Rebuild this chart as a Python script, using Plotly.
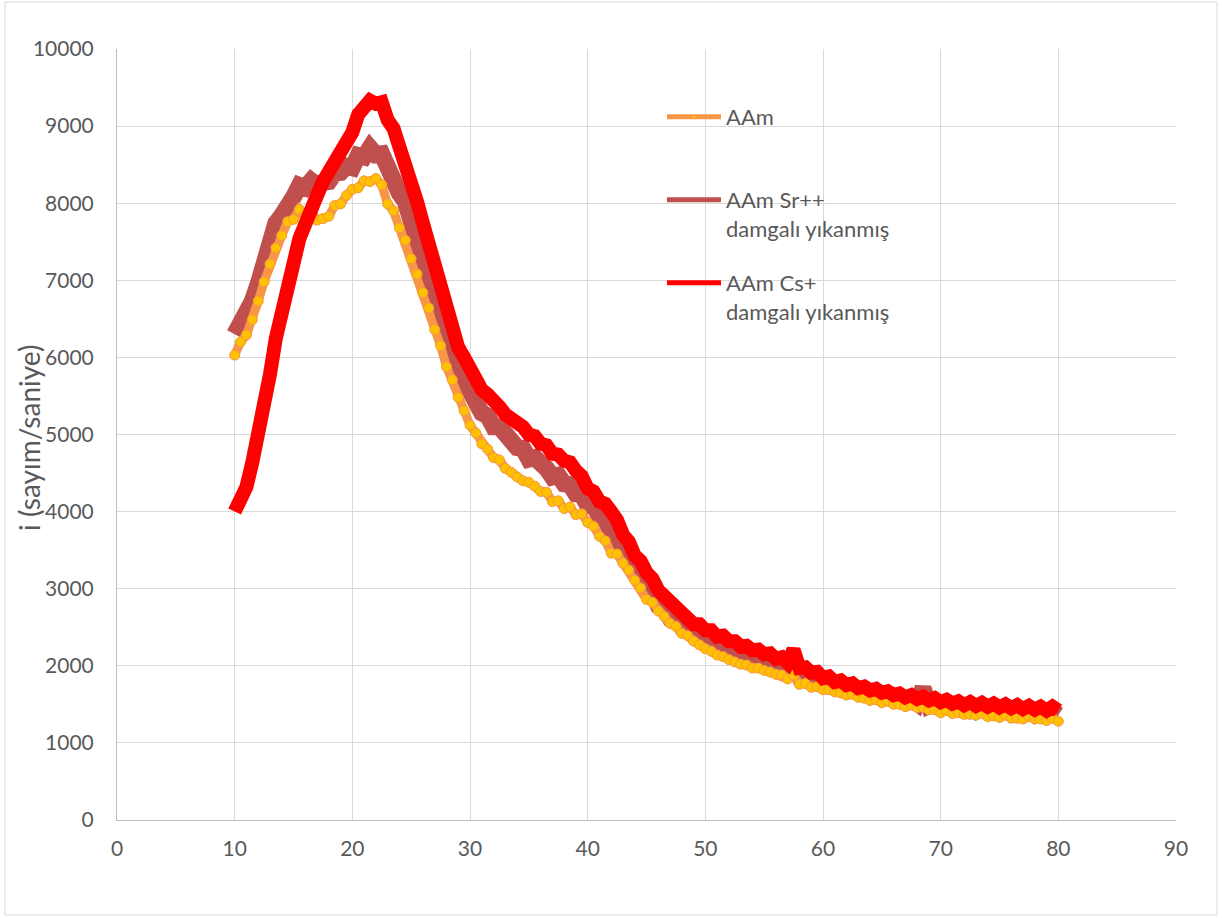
import plotly.graph_objects as go

# 2-theta sampling (degrees)
two_theta = [
    10, 10.5, 11, 11.5, 12, 12.5, 13, 13.5, 14, 14.5, 15, 15.5, 16, 16.5, 17, 17.5, 18, 18.5, 19, 19.5,
    20, 20.5, 21, 21.5, 22, 22.5, 23, 23.5, 24, 24.5, 25, 25.5, 26, 26.5, 27, 27.5, 28, 28.5, 29, 29.5,
    30, 30.5, 31, 31.5, 32, 32.5, 33, 33.5, 34, 34.5, 35, 35.5, 36, 36.5, 37, 37.5, 38, 38.5, 39, 39.5,
    40, 40.5, 41, 41.5, 42, 42.5, 43, 43.5, 44, 44.5, 45, 45.5, 46, 46.5, 47, 47.5, 48, 48.5, 49, 49.5,
    50, 50.5, 51, 51.5, 52, 52.5, 53, 53.5, 54, 54.5, 55, 55.5, 56, 56.5, 57, 57.5, 58, 58.5, 59, 59.5,
    60, 60.5, 61, 61.5, 62, 62.5, 63, 63.5, 64, 64.5, 65, 65.5, 66, 66.5, 67, 67.5, 68, 68.5, 69, 69.5,
    70, 70.5, 71, 71.5, 72, 72.5, 73, 73.5, 74, 74.5, 75, 75.5, 76, 76.5, 77, 77.5, 78, 78.5, 79, 79.5,
    80,
]

# intensity, counts per second
aam = [
    6030, 6200, 6290, 6490, 6730, 6980, 7210, 7420, 7580, 7760, 7790, 7920, 7830, 7900, 7780, 7800, 7830, 7970, 7990, 8100,
    8180, 8200, 8290, 8280, 8320, 8240, 7990, 7900, 7680, 7520, 7280, 7080, 6840, 6640, 6360, 6150, 5880, 5710, 5480, 5310,
    5120, 5020, 4880, 4810, 4700, 4670, 4560, 4510, 4450, 4400, 4380, 4330, 4260, 4250, 4130, 4140, 4040, 4060, 3960, 3970,
    3860, 3810, 3680, 3620, 3460, 3450, 3330, 3240, 3110, 3010, 2860, 2820, 2710, 2640, 2550, 2510, 2420, 2390, 2320, 2270,
    2220, 2190, 2140, 2120, 2080, 2050, 2020, 2010, 1970, 1970, 1940, 1920, 1890, 1880, 1830, 1880, 1760, 1770, 1720, 1730,
    1690, 1690, 1660, 1650, 1620, 1630, 1590, 1580, 1550, 1560, 1520, 1540, 1500, 1500, 1470, 1490, 1460, 1460, 1430, 1430,
    1390, 1420, 1380, 1390, 1370, 1370, 1360, 1380, 1340, 1350, 1330, 1360, 1320, 1320, 1310, 1340, 1310, 1310, 1290, 1320,
    1280,
]

aam_sr = [
    6300, 6430, 6500, 6730, 6950, 7260, 7450, 7740, 7840, 8030, 8080, 8230, 8200, 8290, 8230, 8270, 8280, 8390, 8400, 8480,
    8460, 8620, 8600, 8720, 8630, 8640, 8430, 8370, 8130, 8020, 7780, 7590, 7280, 7090, 6780, 6560, 6230, 6050, 5780, 5700,
    5530, 5460, 5280, 5240, 5100, 5100, 4980, 4960, 4830, 4820, 4680, 4700, 4580, 4560, 4450, 4470, 4360, 4350, 4230, 4220,
    4080, 4080, 3940, 3900, 3730, 3680, 3500, 3430, 3250, 3180, 3000, 2940, 2780, 2750, 2620, 2610, 2500, 2500, 2400, 2400,
    2320, 2320, 2240, 2260, 2180, 2190, 2110, 2140, 2060, 2090, 2020, 2040, 1970, 2000, 1930, 2020, 1860, 1890, 1810, 1840,
    1770, 1800, 1730, 1760, 1690, 1730, 1660, 1690, 1620, 1660, 1590, 1630, 1570, 1600, 1540, 1580, 1520, 1710, 1490, 1530,
    1470, 1510, 1450, 1500, 1440, 1480, 1420, 1470, 1410, 1450, 1400, 1440, 1390, 1430, 1380, 1430, 1370, 1420, 1370, 1410,
    1360,
]

aam_cs = [
    4000, 4170, 4320, 4640, 4960, 5420, 5780, 6250, 6600, 6980, 7240, 7540, 7730, 7970, 8100, 8280, 8400, 8580, 8680, 8840,
    8920, 9150, 9230, 9330, 9290, 9310, 9080, 8970, 8730, 8520, 8230, 8020, 7740, 7470, 7130, 6900, 6580, 6380, 6130, 6000,
    5830, 5740, 5580, 5520, 5400, 5360, 5260, 5220, 5130, 5100, 5000, 4980, 4880, 4860, 4750, 4740, 4660, 4640, 4530, 4460,
    4300, 4260, 4130, 4100, 4000, 3890, 3700, 3610, 3430, 3360, 3210, 3130, 2980, 2910, 2780, 2740, 2640, 2630, 2540, 2540,
    2460, 2460, 2380, 2390, 2320, 2320, 2250, 2260, 2200, 2210, 2150, 2160, 2090, 2110, 2040, 2210, 1970, 1980, 1910, 1920,
    1840, 1860, 1790, 1810, 1750, 1770, 1710, 1730, 1680, 1700, 1650, 1670, 1620, 1640, 1590, 1620, 1570, 1600, 1550, 1580,
    1530, 1560, 1510, 1540, 1490, 1530, 1480, 1520, 1470, 1510, 1460, 1500, 1450, 1490, 1440, 1480, 1430, 1470, 1420, 1470,
    1420,
]

x_ticks = [0, 10, 20, 30, 40, 50, 60, 70, 80, 90]
y_ticks = [0, 1000, 2000, 3000, 4000, 5000, 6000, 7000, 8000, 9000, 10000]
y_tick_labels = ["0", "1000", "2000", "3000", "4000", "5000", "6000", "7000", "8000", "9000", "10000"]

FONT = "Lato"
TEXT_GREY = "#595959"
C_AAM, C_AAM_FILL = "#F79646", "#FFC000"
C_SR, C_CS = "#C0504D", "#FF0000"

W, H = 1222, 918
ML, MR, MT, MB = 117, 46, 49, 98
PW, PH = W - ML - MR, H - MT - MB


def px_x(px):
    return (px - ML) / PW


def px_y(py):
    return (H - MB - py) / PH


fig = go.Figure()

# measured patterns: Sr++ underneath, AAm over it, Cs+ on top
fig.add_trace(go.Scatter(
    x=two_theta, y=aam_sr, mode="lines", showlegend=False,
    line=dict(color=C_SR, width=17),
))
fig.add_trace(go.Scatter(
    x=two_theta, y=aam, mode="lines+markers", showlegend=False,
    line=dict(color=C_AAM, width=9),
    marker=dict(color=C_AAM_FILL, size=10, line=dict(color=C_AAM, width=1)),
))
fig.add_trace(go.Scatter(
    x=two_theta, y=aam_cs, mode="lines", showlegend=False,
    line=dict(color=C_CS, width=14),
))

# legend keys drawn with a slimmer stroke than the data bands
fig.add_trace(go.Scatter(
    x=[None], y=[None], mode="lines+markers", name="AAm",
    line=dict(color=C_AAM, width=5),
    marker=dict(color=C_AAM_FILL, size=3, line=dict(width=0)),
    legend="legend",
))
fig.add_trace(go.Scatter(
    x=[None], y=[None], mode="lines", name="AAm Sr++<br>damgalı yıkanmış",
    line=dict(color=C_SR, width=5), legend="legend2",
))
fig.add_trace(go.Scatter(
    x=[None], y=[None], mode="lines", name="AAm Cs+<br>damgalı yıkanmış",
    line=dict(color=C_CS, width=5), legend="legend3",
))

legend_common = dict(
    font=dict(family=FONT, size=22, color=TEXT_GREY),
    bgcolor="rgba(0,0,0,0)", xanchor="left", yanchor="top",
    valign="top", itemwidth=54, itemclick=False, itemdoubleclick=False,
)

fig.update_layout(
    width=W, height=H,
    margin=dict(l=ML, r=MR, t=MT, b=MB),
    paper_bgcolor="white", plot_bgcolor="white",
    font=dict(family=FONT, color=TEXT_GREY),
    showlegend=True,
    legend=dict(x=px_x(662), y=px_y(96), **legend_common),
    legend2=dict(x=px_x(662), y=px_y(179), **legend_common),
    legend3=dict(x=px_x(662), y=px_y(262), **legend_common),
    xaxis=dict(
        range=[0, 90], tickvals=x_ticks, ticks="",
        showgrid=True, gridcolor="#D9D9D9", gridwidth=1,
        showline=True, linecolor="#BFBFBF", linewidth=1,
        zeroline=False, tickfont=dict(family=FONT, size=21, color=TEXT_GREY),
        ticklabelstandoff=10,
    ),
    yaxis=dict(
        range=[0, 10000], tickvals=y_ticks, ticktext=y_tick_labels, ticks="",
        showgrid=True, gridcolor="#D9D9D9", gridwidth=1,
        showline=True, linecolor="#BFBFBF", linewidth=1,
        zeroline=False, tickfont=dict(family=FONT, size=21, color=TEXT_GREY),
        ticklabelstandoff=18,
    ),
    annotations=[dict(
        text="i (sayım/saniye)", textangle=-90,
        xref="paper", yref="paper", x=px_x(29), y=px_y(438),
        xanchor="center", yanchor="middle", showarrow=False,
        font=dict(family=FONT, size=28, color=TEXT_GREY),
    )],
    shapes=[dict(
        type="rect", xref="paper", yref="paper",
        x0=px_x(5), x1=px_x(1217), y0=px_y(915), y1=px_y(2),
        line=dict(color="#D9D9D9", width=1), fillcolor="rgba(0,0,0,0)", layer="below",
    )],
)

fig.write_html("out.html")
